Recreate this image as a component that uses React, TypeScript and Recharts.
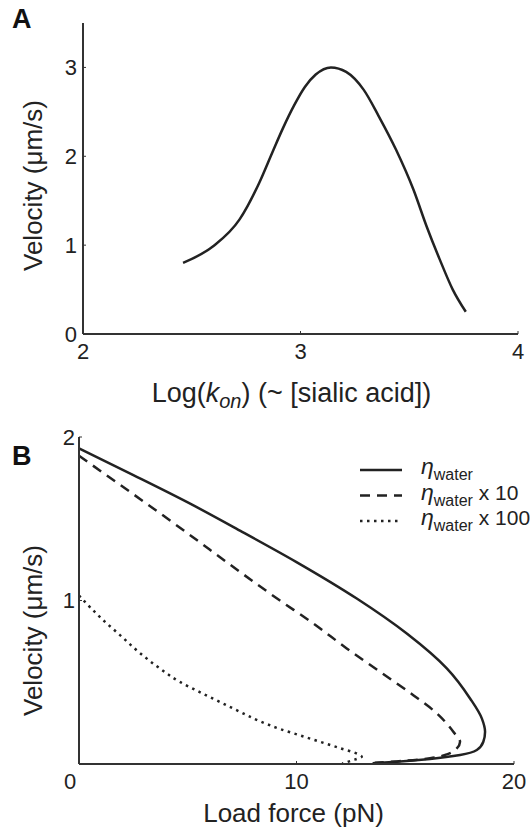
import { LineChart, Line, XAxis, YAxis, Legend } from "recharts"

const font = '"Liberation Sans", Arial, Helvetica, sans-serif'
const ink = "#222"
const axisInk = "#333"

// A: velocity against log(kon)
const logKon = [2.46, 2.6, 2.72, 2.81, 2.87, 2.92, 2.97, 3.02, 3.07, 3.14, 3.21, 3.29, 3.36, 3.44, 3.52, 3.58, 3.64, 3.7, 3.76]
const velocityKon = [0.8, 0.99, 1.29, 1.7, 2.04, 2.32, 2.57, 2.78, 2.92, 3.0, 2.95, 2.75, 2.45, 2.07, 1.62, 1.21, 0.84, 0.5, 0.25]
const konTicks = [2, 3, 4]
const velocityTicksA = [0, 1, 2, 3]

// B: force-velocity curves for three viscosities
const forceWater = [0, 2.5, 5, 7.5, 10, 12.77, 15.1, 16.91, 17.98, 18.52, 18.67, 18.59, 18.29, 17.52, 16.14, 14.61, 13.5]
const velWater = [1.93, 1.767, 1.6, 1.42, 1.235, 1.012, 0.795, 0.585, 0.401, 0.279, 0.197, 0.136, 0.086, 0.055, 0.031, 0.014, 0.005]
const forceTen = [0, 3.71, 9.24, 10.77, 12.31, 13.84, 15.37, 16.45, 17.21, 17.52, 17.37, 16.91, 16.14, 14.61, 13.6]
const velTen = [1.885, 1.535, 1.0, 0.86, 0.707, 0.564, 0.421, 0.31, 0.197, 0.136, 0.096, 0.059, 0.035, 0.016, 0.008]
const forceHundred = [0, 0.5, 1.03, 1.87, 2.79, 3.71, 4.63, 5.55, 6.47, 7.39, 8.31, 9.24, 10.16, 11.08, 12.0, 12.8, 13.0, 12.7, 12.35, 12.1]
const velHundred = [1.03, 0.96, 0.89, 0.79, 0.68, 0.585, 0.503, 0.44, 0.38, 0.32, 0.262, 0.214, 0.175, 0.136, 0.097, 0.062, 0.045, 0.028, 0.013, 0.002]
const seriesSuffix = ["", " x 10", " x 100"]
const forceTicks = [0, 10, 20]
const velocityTicksB = [1, 2]

const zip = (xs: number[], ys: number[]) => xs.map((x, i) => ({ x, v: ys[i] }))
const curveA = zip(logKon, velocityKon)
const waterB = zip(forceWater, velWater)
const tenB = zip(forceTen, velTen)
const hundredB = zip(forceHundred, velHundred)

const tickStyle = { fill: ink, fontSize: 22, fontFamily: font }
const axisLine = { stroke: axisInk, strokeWidth: 2 }
const tickLine = { stroke: axisInk, strokeWidth: 1 }

const YTitle = ({ cy }: { cy: number }) => (
  <text
    transform={`translate(42, ${cy}) rotate(-90)`}
    textAnchor="middle"
    fontSize={26}
    fontFamily={font}
    fill={ink}
  >
    Velocity (μm/s)
  </text>
)

const ForceTick = (props: any) => {
  const { x, y, payload } = props
  // the zero label sits a little left of the axis
  const shift = payload.value === 0 ? -9 : 0
  return (
    <text x={x + shift} y={y} dy="0.71em" textAnchor="middle" {...tickStyle}>
      {payload.value}
    </text>
  )
}

const ViscosityLegend = (props: any) => {
  const items = props.payload || []
  return (
    <svg width={175} height={80} style={{ display: "block", overflow: "visible" }}>
      {items.map((item: any, i: number) => {
        const cy = 12 + i * 25.5
        return (
          <g key={i}>
            <line
              x1={5}
              x2={47}
              y1={cy}
              y2={cy}
              stroke={ink}
              strokeWidth={2.5}
              strokeDasharray={item.payload?.strokeDasharray}
            />
            <text x={66} y={cy + 4} fontFamily={font} fill={ink}>
              <tspan fontSize={23} fontStyle="italic">η</tspan>
              <tspan fontSize={16} dy={6}>water</tspan>
              <tspan fontSize={21} dy={-6}>{seriesSuffix[i]}</tspan>
            </text>
          </g>
        )
      })}
    </svg>
  )
}

function PanelA() {
  return (
    <LineChart width={531} height={415} margin={{ top: 23, right: 13, bottom: 21, left: 0 }}>
      <XAxis
        dataKey="x"
        type="number"
        domain={[2, 4]}
        ticks={konTicks}
        height={60}
        axisLine={axisLine}
        tickLine={tickLine}
        tickSize={-3}
        tickMargin={12}
        tick={tickStyle}
        label={{
          content: (p: any) => {
            const vb = p.viewBox
            return (
              <text
                x={vb.x + vb.width / 2 - 9}
                y={vb.y + 68}
                textAnchor="middle"
                fontSize={27}
                fontFamily={font}
                fill={ink}
              >
                Log(<tspan fontStyle="italic">k</tspan>
                <tspan fontStyle="italic" fontSize={20} dy={6}>on</tspan>
                <tspan dy={-6}>) (~ [sialic acid])</tspan>
              </text>
            )
          },
        }}
      />
      <YAxis
        type="number"
        domain={[0, 3.5]}
        ticks={velocityTicksA}
        width={83}
        axisLine={axisLine}
        tickLine={tickLine}
        tickSize={-3}
        tickMargin={9}
        tick={tickStyle}
        label={{ content: (p: any) => <YTitle cy={p.viewBox.y + p.viewBox.height / 2 + 7} /> }}
      />
      <Line
        data={curveA}
        dataKey="v"
        type="monotone"
        stroke={ink}
        strokeWidth={2.5}
        dot={false}
        activeDot={false}
        isAnimationActive={false}
      />
    </LineChart>
  )
}

function PanelB() {
  return (
    <LineChart width={531} height={428} margin={{ top: 37, right: 17, bottom: 14, left: 0 }}>
      <XAxis
        dataKey="x"
        type="number"
        domain={[0, 20]}
        ticks={forceTicks}
        height={50}
        axisLine={axisLine}
        tickLine={tickLine}
        tickSize={-3}
        tickMargin={12}
        tick={<ForceTick />}
        label={{
          content: (p: any) => {
            const vb = p.viewBox
            return (
              <text
                x={vb.x + vb.width / 2 - 3}
                y={vb.y + 58}
                textAnchor="middle"
                fontSize={26}
                fontFamily={font}
                fill={ink}
              >
                Load force (pN)
              </text>
            )
          },
        }}
      />
      <YAxis
        type="number"
        domain={[0, 2]}
        ticks={velocityTicksB}
        width={79}
        axisLine={axisLine}
        tickLine={tickLine}
        tickSize={-3}
        tickMargin={7}
        tick={tickStyle}
        label={{ content: (p: any) => <YTitle cy={p.viewBox.y + p.viewBox.height / 2 + 30} /> }}
      />
      <Legend
        layout="vertical"
        align="center"
        verticalAlign="middle"
        content={<ViscosityLegend />}
        wrapperStyle={{ top: 58, left: 355, width: 175, height: 80 }}
      />
      <Line
        name="water"
        data={waterB}
        dataKey="v"
        type="monotoneY"
        stroke={ink}
        strokeWidth={2.5}
        dot={false}
        activeDot={false}
        isAnimationActive={false}
      />
      <Line
        name="water x 10"
        data={tenB}
        dataKey="v"
        type="monotoneY"
        stroke={ink}
        strokeWidth={2.5}
        strokeDasharray="10 7"
        dot={false}
        activeDot={false}
        isAnimationActive={false}
      />
      <Line
        name="water x 100"
        data={hundredB}
        dataKey="v"
        type="monotoneY"
        stroke={ink}
        strokeWidth={2.5}
        strokeDasharray="2.5 4.5"
        dot={false}
        activeDot={false}
        isAnimationActive={false}
      />
    </LineChart>
  )
}

const panelLetter = {
  position: "absolute" as const,
  left: 12,
  fontFamily: font,
  fontWeight: 700,
  fontSize: 27,
  lineHeight: "27px",
  color: "#111",
}

export default function App() {
  return (
    <div style={{ position: "absolute", left: 0, top: 0, width: 531, height: 828, background: "#fff" }}>
      <div style={{ position: "absolute", left: 0, top: 0 }}>
        <PanelA />
      </div>
      <div style={{ position: "absolute", left: 0, top: 400 }}>
        <PanelB />
      </div>
      <div style={{ ...panelLetter, top: 6 }}>A</div>
      <div style={{ ...panelLetter, top: 443 }}>B</div>
    </div>
  )
}
